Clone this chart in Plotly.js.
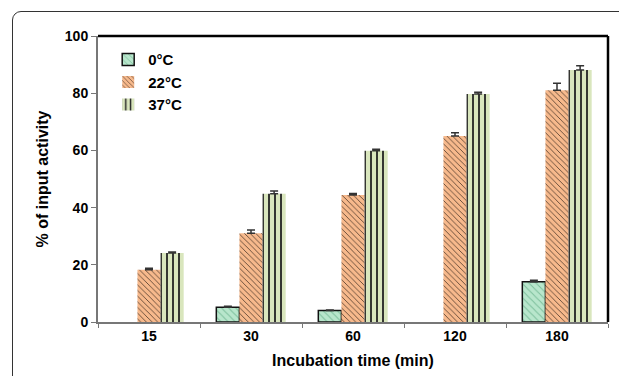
<!DOCTYPE html>
<html><head><meta charset="utf-8">
<script src="https://cdn.plot.ly/plotly-3.0.1.min.js"></script>
<style>
body{margin:0;padding:0;background:#fff;}
#wrap{position:relative;width:619px;height:376px;overflow:hidden;}
#frame{position:absolute;left:12px;top:11px;width:640px;height:400px;border:1.5px solid #333;border-radius:9px;box-sizing:border-box;}
#chart{position:absolute;left:0;top:0;width:619px;height:376px;}
</style></head>
<body><div id="wrap"><div id="frame"></div><div id="chart"></div></div>
<script>
const categories = ['15','30','60','120','180'];
const seriesNames = ['0°C','22°C','37°C'];
const v0 = [null, 5.2, 4.0, null, 14.1];
const e0 = [0, 0.3, 0.2, 0, 0.5];
const v22 = [18.3, 31.0, 44.4, 65.0, 81.0];
const e22 = [0.5, 1.2, 0.5, 1.2, 2.5];
const v37 = [24.1, 44.8, 59.9, 79.7, 88.1];
const e37 = [0.4, 1.0, 0.5, 0.6, 1.5];
const yTicks = [0, 20, 40, 60, 80, 100];

const F = 'Arial, "Liberation Sans", sans-serif';
function err(a){return {type:'data', array:a, symmetric:false, arrayminus:a.map(()=>0), color:'#333', thickness:1.5, width:4};}

const traces = [
 {type:'bar', name:seriesNames[0], x:categories, y:v0, error_y:err(e0),
  marker:{color:'#b8e6cc', line:{color:'#111', width:1.5},
   pattern:{shape:'\\', fgcolor:'#7dbf9c', bgcolor:'#b8e6cc', size:5, solidity:0.2}}},
 {type:'bar', name:seriesNames[1], x:categories, y:v22, error_y:err(e22),
  marker:{color:'#f7b98c', line:{width:0},
   pattern:{shape:'\\', fgcolor:'#3a2a20', bgcolor:'#f7b98c', size:4, solidity:0.18}}},
 {type:'bar', name:seriesNames[2], x:categories, y:v37, error_y:err(e37),
  marker:{color:'#d9e6bd', line:{width:0},
   pattern:{shape:'|', fgcolor:'#222', bgcolor:'#d9e6bd', size:6, solidity:0.3}}}
];

const layout = {
 width:619, height:376,
 margin:{l:98, r:11, t:36, b:54},
 paper_bgcolor:'rgba(0,0,0,0)', plot_bgcolor:'#fff',
 barmode:'group', bargap:0.32, bargroupgap:0,
 font:{family:F, color:'#000'},
 showlegend:true,
 legend:{x:0.02, y:0.975, xanchor:'left', yanchor:'top', bgcolor:'rgba(0,0,0,0)',
  font:{family:F, size:15, weight:'bold'}, tracegroupgap:0, itemwidth:30},
 xaxis:{type:'category', tickson:'boundaries', ticks:'outside', ticklen:4, tickcolor:'#777',
  showline:true, linecolor:'#777', linewidth:2, showgrid:false,
  tickfont:{family:F, size:14, weight:'bold'},
  title:{text:'Incubation time (min)', font:{family:F, size:16, weight:'bold'}, standoff:12}},
 yaxis:{range:[0,100], tickvals:yTicks, ticktext:yTicks.map(String), ticks:'outside', ticklen:5, tickcolor:'#777',
  showline:true, linecolor:'#777', linewidth:2, showgrid:false, zeroline:false,
  tickfont:{family:F, size:14, weight:'bold'},
  title:{text:'% of input activity', font:{family:F, size:16, weight:'bold'}, standoff:12}},
 shapes:[
  {type:'line', xref:'paper', yref:'paper', x0:0, x1:1, y0:1, y1:1, line:{color:'#000', width:2.5}},
  {type:'line', xref:'paper', yref:'paper', x0:1, x1:1, y0:0, y1:1, line:{color:'#000', width:2.5}}
 ]
};
Plotly.newPlot('chart', traces, layout, {displayModeBar:false, staticPlot:true});
</script></body></html>
